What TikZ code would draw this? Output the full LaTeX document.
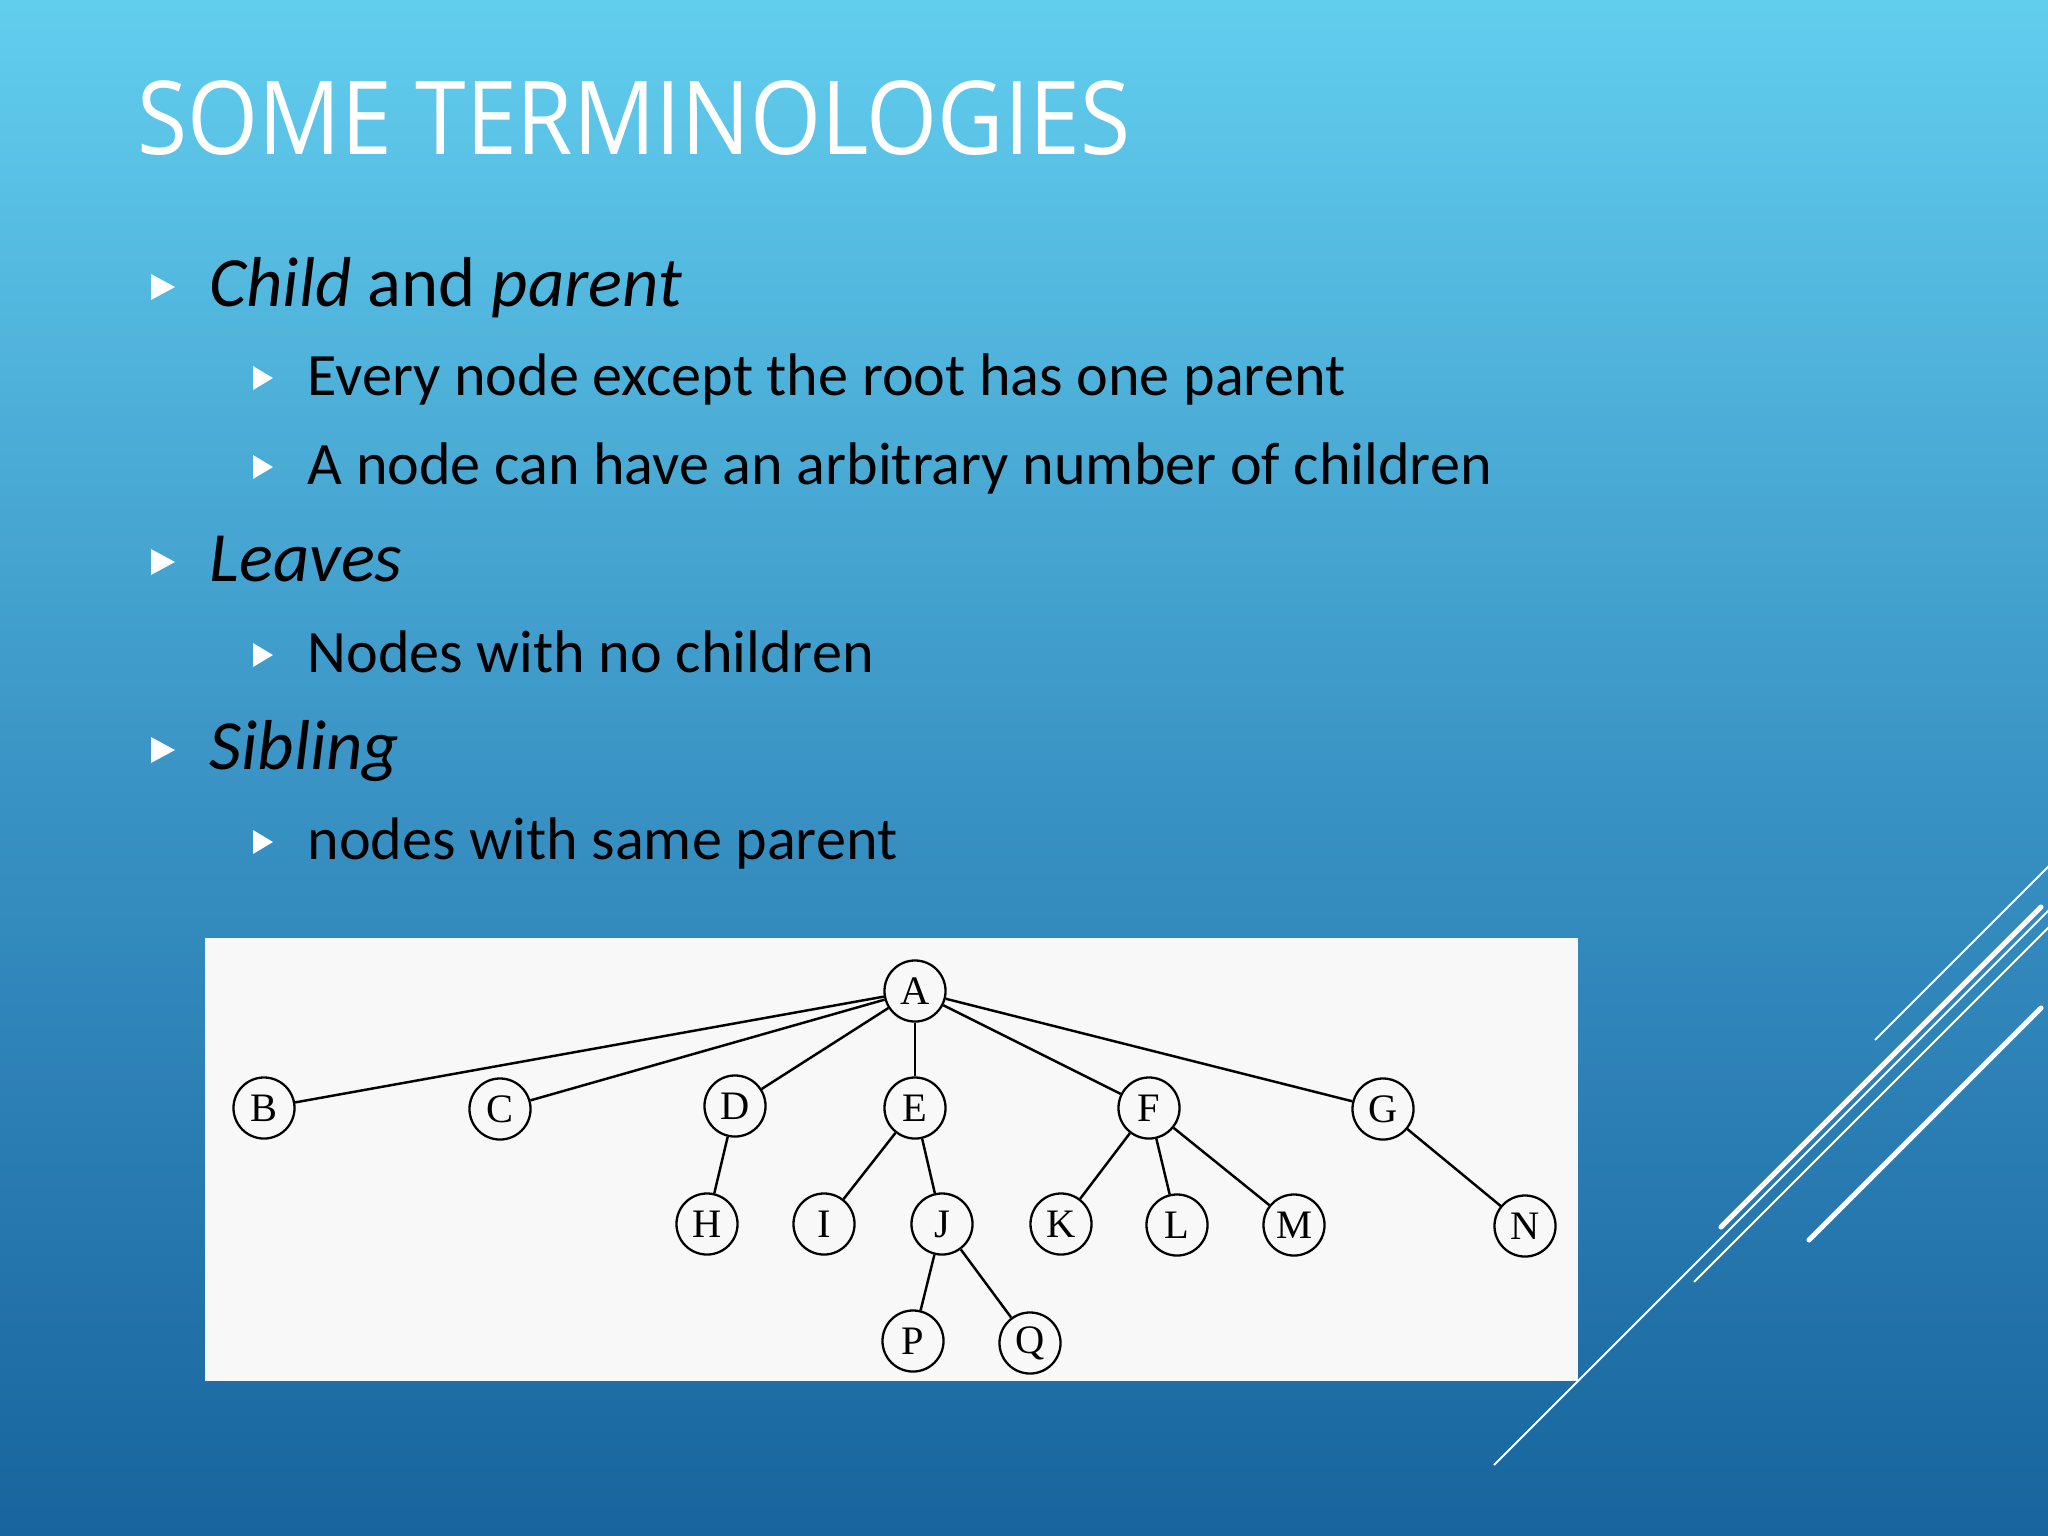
\documentclass[tikz,border=0pt]{standalone}
\usepackage{fontspec}
\setmainfont{Carlito}
\newfontfamily\titlefont{Open Sans}[FakeStretch=0.895]
\newfontfamily\treefont{Liberation Serif}
\definecolor{bgtop}{RGB}{98,206,238}
\definecolor{bgmid}{RGB}{58,148,197}
\definecolor{bgbot}{RGB}{24,100,158}
\definecolor{boxbg}{RGB}{248,248,248}
\begin{document}
\begin{tikzpicture}[x=0.01cm,y=-0.01cm,
  tnode/.style={circle,draw=black,line width=0.65pt,fill=boxbg,minimum size=0.61cm,inner sep=0pt,font=\treefont\fontsize{11.5}{11.5}\selectfont},
  tedge/.style={draw=black,line width=0.7pt},
  maintext/.style={anchor=base west,inner sep=0pt,text=black,font=\fontsize{20.1}{22}\selectfont},
  subtext/.style={anchor=base west,inner sep=0pt,text=black,font=\fontsize{17.1}{19}\selectfont},
  deco thin/.style={draw=white,line width=0.55pt},
  deco thick/.style={draw=white,line width=1.45pt,line cap=round}
]
\useasboundingbox (0,0) rectangle (2048,1536);
\shade[top color=bgtop,bottom color=bgbot,middle color=bgmid] (0,0) rectangle (2048,1536);

% title
\node[anchor=base west,inner sep=0pt,text=white,font=\titlefont\fontsize{29}{30}\selectfont] (title) at (137,154) {SOME TERMINOLOGIES};

% bullets
\newcommand{\mainbullet}[1]{\fill[white] (151,#1-13) -- (175,#1) -- (151,#1+13) -- cycle;}
\newcommand{\subbullet}[1]{\fill[white] (253,#1-12) -- (273,#1) -- (253,#1+12) -- cycle;}

\mainbullet{287}
\node[maintext] (t1) at (209,306) {\textit{Child} and \textit{parent}};
\subbullet{378}
\node[subtext] (t2) at (307,395) {Every node except the root has one parent};
\subbullet{467}
\node[subtext] (t3) at (307,484) {A node can have an arbitrary number of children};
\mainbullet{562}
\node[maintext] (t4) at (209,581) {\textit{Leaves}};
\subbullet{655}
\node[subtext] (t5) at (307,672) {Nodes with no children};
\mainbullet{750}
\node[maintext] (t6) at (209,769) {\textit{Sibling}};
\subbullet{842}
\node[subtext] (t7) at (307,859) {nodes with same parent};

% tree picture
\fill[boxbg] (205,938) rectangle (1578,1381);
\node[tnode] (A) at (915,991) {A};
\node[tnode] (B) at (264,1108) {B};
\node[tnode] (C) at (500,1109) {C};
\node[tnode] (D) at (735,1106) {D};
\node[tnode] (E) at (915,1108) {E};
\node[tnode] (F) at (1149,1108) {F};
\node[tnode] (G) at (1383,1109) {G};
\node[tnode] (H) at (707,1224) {H};
\node[tnode] (I) at (824,1224) {I};
\node[tnode] (J) at (942,1224) {J};
\node[tnode] (K) at (1061,1224) {K};
\node[tnode] (L) at (1177,1225) {L};
\node[tnode] (M) at (1294,1225) {M};
\node[tnode] (N) at (1525,1226) {N};
\node[tnode] (P) at (913,1341) {P};
\node[tnode] (Q) at (1030,1343) {Q};
\foreach \a/\b in {A/B,A/C,A/D,A/E,A/F,A/G,D/H,E/I,E/J,F/K,F/L,F/M,G/N,J/P,J/Q}
  \draw[tedge] (\a) -- (\b);

% decorative lines
\begin{scope}
\clip (0,0) rectangle (2048,1536);
\coordinate (l1a) at (1875,1040); \coordinate (l1b) at (2060,855);
\coordinate (l2a) at (1721,1227); \coordinate (l2b) at (2041,907);
\coordinate (l3a) at (1494,1465); \coordinate (l3b) at (2060,899);
\coordinate (l4a) at (1694,1282); \coordinate (l4b) at (2060,916);
\coordinate (l5a) at (1809,1240); \coordinate (l5b) at (2041,1008);
\draw[deco thin] (l1a) -- (l1b);
\draw[deco thick] (l2a) -- (l2b);
\draw[deco thin] (l3a) -- (l3b);
\draw[deco thin] (l4a) -- (l4b);
\draw[deco thick] (l5a) -- (l5b);
\end{scope}
\end{tikzpicture}
\end{document}
